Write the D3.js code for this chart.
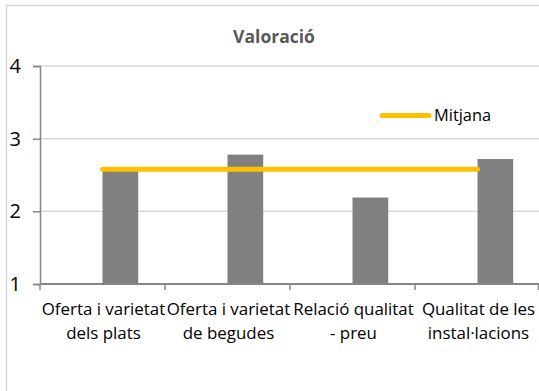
<!DOCTYPE html>
<html>
<head>
<meta charset="utf-8">
<script src="https://cdn.jsdelivr.net/npm/d3@7"></script>
<style>
  html, body { margin: 0; padding: 0; background: #fff; }
  svg { display: block; }
  text { font-family: "Open Sans", "Noto Sans", sans-serif; }
</style>
</head>
<body>
<svg id="chart" width="539" height="391"></svg>
<script>
// Valoració per aspecte i mitjana global
const categories = ["Oferta i varietat dels plats", "Oferta i varietat de begudes", "Relació qualitat - preu", "Qualitat de les instal·lacions"];
const categoryLines = [["Oferta i varietat", "dels plats"], ["Oferta i varietat", "de begudes"], ["Relació qualitat", "- preu"], ["Qualitat de les", "instal·lacions"]];
const valoracio = [2.60, 2.78, 2.19, 2.72];
const mitjana = [2.58, 2.58, 2.58, 2.58];
const yTicks = [1, 2, 3, 4];

const svg = d3.select("#chart");
const W = 539, H = 391;
const plot = { left: 40, right: 540, top: 66, bottom: 284 };

// chart area frame
svg.append("rect")
  .attr("x", 6.5).attr("y", 5.5)
  .attr("width", W + 20).attr("height", H + 20)
  .attr("fill", "#fff").attr("stroke", "#D9D9D9").attr("stroke-width", 1.5);

const x = d3.scaleBand().domain(categories).range([plot.left, plot.right]);
const y = d3.scaleLinear().domain([1, 4]).range([plot.bottom, plot.top]);
const bw = x.bandwidth() / 3.5;

// horizontal gridlines
svg.append("g").selectAll("line").data(yTicks.filter(d => d > 1)).join("line")
  .attr("x1", plot.left).attr("x2", plot.right)
  .attr("y1", d => y(d)).attr("y2", d => y(d))
  .attr("stroke", "#D9D9D9").attr("stroke-width", 1.5);

// bars
svg.append("g").selectAll("rect").data(categories).join("rect")
  .attr("x", d => x(d) + x.bandwidth() / 2)
  .attr("width", bw)
  .attr("y", (d, i) => y(valoracio[i]))
  .attr("height", (d, i) => y(1) - y(valoracio[i]))
  .attr("fill", "#808080");

// y axis
const yAxis = svg.append("g")
  .attr("transform", `translate(${plot.left},0)`)
  .call(d3.axisLeft(y).tickValues(yTicks).tickSize(7).tickPadding(12).tickFormat(d3.format("d")));
yAxis.select(".domain").attr("stroke", "#868686").attr("stroke-width", 1.5);
yAxis.selectAll(".tick line").attr("stroke", "#868686").attr("stroke-width", 1.5);
yAxis.selectAll(".tick text")
  .attr("fill", "#000").style("font-size", "20px")
  .style("font-family", "'Open Sans', sans-serif");

// x axis with ticks between categories
const xAxis = svg.append("g");
xAxis.append("line")
  .attr("x1", plot.left).attr("x2", plot.right)
  .attr("y1", plot.bottom).attr("y2", plot.bottom)
  .attr("stroke", "#868686").attr("stroke-width", 2);
const bounds = categories.map(c => x(c)).concat([x.range()[1] - 1.5]);
xAxis.selectAll("line.tk").data(bounds).join("line").attr("class", "tk")
  .attr("x1", d => d).attr("x2", d => d)
  .attr("y1", plot.bottom).attr("y2", plot.bottom + 6)
  .attr("stroke", "#868686").attr("stroke-width", 1.5);
const labels = xAxis.selectAll("text").data(categories).join("text")
  .attr("x", d => x(d) + x.bandwidth() / 2 + 1)
  .attr("y", 315)
  .attr("text-anchor", "middle")
  .style("font-size", "16.9px").attr("fill", "#000");
labels.selectAll("tspan").data((d, i) => categoryLines[i]).join("tspan")
  .attr("x", function () { return this.parentNode.getAttribute("x"); })
  .attr("dy", (d, i) => i === 0 ? 0 : 24)
  .text(d => d);

// mean line
const line = d3.line()
  .x(d => x(d) + x.bandwidth() / 2)
  .y((d, i) => y(mitjana[i]));
svg.append("path").datum(categories)
  .attr("d", line)
  .attr("fill", "none").attr("stroke", "#FFC000")
  .attr("stroke-width", 5).attr("stroke-linecap", "round");

// title
svg.append("text")
  .attr("x", 274).attr("y", 43)
  .attr("text-anchor", "middle")
  .style("font-size", "17.5px").style("font-weight", "bold")
  .attr("fill", "#595959")
  .text("Valoració");

// legend
const lg = svg.append("g");
lg.append("line")
  .attr("x1", 382).attr("x2", 429).attr("y1", 115.5).attr("y2", 115.5)
  .attr("stroke", "#FFC000").attr("stroke-width", 5).attr("stroke-linecap", "round");
lg.append("text")
  .attr("x", 434).attr("y", 121)
  .style("font-size", "16.4px").attr("fill", "#000")
  .text("Mitjana");
</script>
</body>
</html>
